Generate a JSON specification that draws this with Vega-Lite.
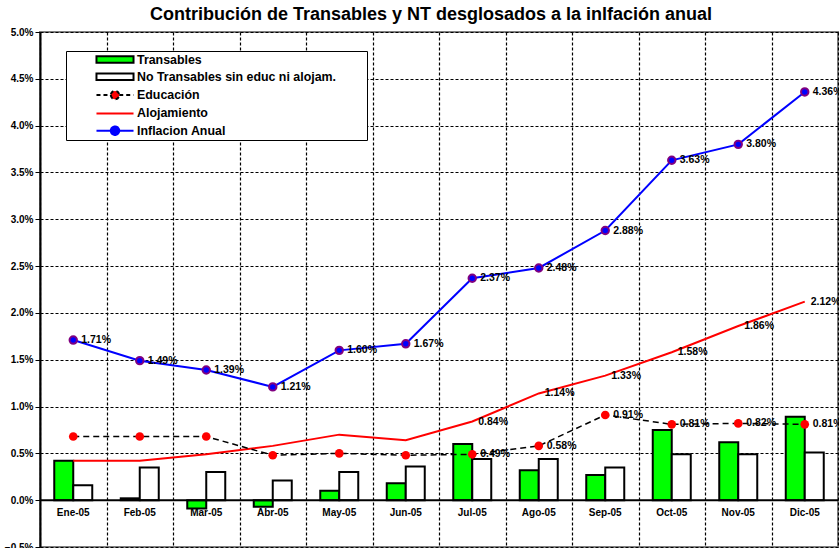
{
  "$schema": "https://vega.github.io/schema/vega-lite/v6.json",
  "width": 798,
  "height": 515,
  "autosize": "none",
  "padding": {"left": 40, "top": 32, "right": 1, "bottom": 1},
  "background": "white",
  "title": {
    "text": "Contribución de Transables y NT desglosados a la inlfación anual",
    "font": "Liberation Sans",
    "fontSize": 18,
    "fontWeight": "bold",
    "color": "black",
    "anchor": "middle",
    "offset": 3,
    "dx": -8
  },
  "datasets": {
    "bars": [
      {"month": "Ene-05", "series": "Transables", "value": 0.0042},
      {"month": "Feb-05", "series": "Transables", "value": 0.0002},
      {"month": "Mar-05", "series": "Transables", "value": -0.0009},
      {"month": "Abr-05", "series": "Transables", "value": -0.0007},
      {"month": "May-05", "series": "Transables", "value": 0.0010},
      {"month": "Jun-05", "series": "Transables", "value": 0.0018},
      {"month": "Jul-05", "series": "Transables", "value": 0.0060},
      {"month": "Ago-05", "series": "Transables", "value": 0.0032},
      {"month": "Sep-05", "series": "Transables", "value": 0.0027},
      {"month": "Oct-05", "series": "Transables", "value": 0.0075},
      {"month": "Nov-05", "series": "Transables", "value": 0.0062},
      {"month": "Dic-05", "series": "Transables", "value": 0.0089},
      {"month": "Ene-05", "series": "No Transables sin educ ni alojam.", "value": 0.0016},
      {"month": "Feb-05", "series": "No Transables sin educ ni alojam.", "value": 0.0035},
      {"month": "Mar-05", "series": "No Transables sin educ ni alojam.", "value": 0.0030},
      {"month": "Abr-05", "series": "No Transables sin educ ni alojam.", "value": 0.0021},
      {"month": "May-05", "series": "No Transables sin educ ni alojam.", "value": 0.0030},
      {"month": "Jun-05", "series": "No Transables sin educ ni alojam.", "value": 0.0036},
      {"month": "Jul-05", "series": "No Transables sin educ ni alojam.", "value": 0.0044},
      {"month": "Ago-05", "series": "No Transables sin educ ni alojam.", "value": 0.0044},
      {"month": "Sep-05", "series": "No Transables sin educ ni alojam.", "value": 0.0035},
      {"month": "Oct-05", "series": "No Transables sin educ ni alojam.", "value": 0.0049},
      {"month": "Nov-05", "series": "No Transables sin educ ni alojam.", "value": 0.0049},
      {"month": "Dic-05", "series": "No Transables sin educ ni alojam.", "value": 0.0051}
    ],
    "lines": [
      {"month": "Ene-05", "edu": 0.0068, "aloj": 0.0042, "infl": 0.0171},
      {"month": "Feb-05", "edu": 0.0068, "aloj": 0.0042, "infl": 0.0149},
      {"month": "Mar-05", "edu": 0.0068, "aloj": 0.0049, "infl": 0.0139},
      {"month": "Abr-05", "edu": 0.0048, "aloj": 0.0058, "infl": 0.0121},
      {"month": "May-05", "edu": 0.0050, "aloj": 0.0070, "infl": 0.0160},
      {"month": "Jun-05", "edu": 0.0048, "aloj": 0.0064, "infl": 0.0167},
      {"month": "Jul-05", "edu": 0.0049, "aloj": 0.0084, "infl": 0.0237},
      {"month": "Ago-05", "edu": 0.0058, "aloj": 0.0114, "infl": 0.0248},
      {"month": "Sep-05", "edu": 0.0091, "aloj": 0.0133, "infl": 0.0288},
      {"month": "Oct-05", "edu": 0.0081, "aloj": 0.0158, "infl": 0.0363},
      {"month": "Nov-05", "edu": 0.0082, "aloj": 0.0186, "infl": 0.0380},
      {"month": "Dic-05", "edu": 0.0081, "aloj": 0.0212, "infl": 0.0436}
    ]
  },
  "config": {
    "font": "Liberation Sans",
    "view": {"stroke": "#808080", "strokeWidth": 2},
    "legend": {"symbolOpacity": 1, "symbolStrokeWidth": 2}
  },
  "layer": [
    {
      "data": {"name": "bars"},
      "mark": {"type": "bar", "strokeWidth": 2},
      "encoding": {
        "x": {"field": "month", "type": "nominal",
          "scale": {"domain": ["Ene-05","Feb-05","Mar-05","Abr-05","May-05","Jun-05","Jul-05","Ago-05","Sep-05","Oct-05","Nov-05","Dic-05"], "paddingInner": 0, "paddingOuter": 0},
          "axis": {"title": null, "labels": false, "ticks": false, "domain": false, "grid": true, "tickBand": "extent", "gridColor": "black", "gridDash": [3, 2], "gridWidth": 1.2, "gridOpacity": 1}},
        "xOffset": {"field": "series", "type": "nominal",
          "scale": {"domain": ["Transables", "No Transables sin educ ni alojam."], "paddingInner": 0, "paddingOuter": 0.75}},
        "y": {"field": "value", "type": "quantitative",
          "scale": {"domain": [-0.005, 0.05], "nice": false, "zero": false},
          "axis": {"title": null, "format": ".1%", "values": [-0.005, 0, 0.005, 0.01, 0.015, 0.02, 0.025, 0.03, 0.035, 0.04, 0.045, 0.05],
            "grid": true, "gridColor": "black", "gridDash": [3, 2], "gridWidth": 1.2, "gridOpacity": 1,
            "domainColor": "black", "domainWidth": 2, "tickColor": "black", "tickSize": 5,
            "labelFont": "Liberation Sans", "labelFontWeight": "bold", "labelFontSize": 10, "labelColor": "black", "labelPadding": 2}},
        "fill": {"field": "series", "type": "nominal",
          "scale": {"domain": ["Transables", "No Transables sin educ ni alojam.", "Educación", "Alojamiento", "Inflacion Anual"],
                    "range": ["#00ff00", "#ffffff", "#ff0000", "transparent", "#0000ff"]},
          "legend": {"title": " ", "titleOrient": "right", "titleColor": "transparent", "titleFontSize": 2, "titlePadding": 30,
            "orient": "none", "legendX": 26, "legendY": 19, "padding": 1, "symbolSize": 169, "symbolStrokeWidth": 2, "symbolOpacity": 1,
            "symbolOffset": 40.5, "labelOffset": 14.5, "rowPadding": 2.3, "fillColor": "white", "strokeColor": "black",
            "labelFont": "Liberation Sans", "labelFontWeight": "bold", "labelFontSize": 12.4, "labelColor": "black", "labelLimit": 400}},
        "stroke": {"field": "series", "type": "nominal",
          "scale": {"domain": ["Transables", "No Transables sin educ ni alojam.", "Educación", "Alojamiento", "Inflacion Anual"],
                    "range": ["black", "black", "black", "#ff0000", "#0000ff"]},
          "legend": {"title": " ", "titleOrient": "right", "titleColor": "transparent", "titleFontSize": 2, "titlePadding": 30,
            "orient": "none", "legendX": 26, "legendY": 19, "padding": 1, "symbolSize": 169, "symbolStrokeWidth": 2, "symbolOpacity": 1,
            "symbolOffset": 40.5, "labelOffset": 14.5, "rowPadding": 2.3, "fillColor": "white", "strokeColor": "black",
            "labelFont": "Liberation Sans", "labelFontWeight": "bold", "labelFontSize": 12.4, "labelColor": "black", "labelLimit": 400}}
      }
    },
    {
      "data": {"name": "bars"},
      "mark": {"type": "point", "opacity": 0},
      "encoding": {
        "x": {"field": "month", "type": "nominal"},
        "y": {"field": "value", "type": "quantitative", "title": null},
        "shape": {"field": "series", "type": "nominal",
          "scale": {"domain": ["Transables", "No Transables sin educ ni alojam.", "Educación", "Alojamiento", "Inflacion Anual"],
                    "range": ["M-2.85,-0.5H2.85V0.5H-2.85Z", "M-2.85,-0.5H2.85V0.5H-2.85Z", "M-2.85,0H-0.65M0.65,0H2.85M-0.65,0A0.65,0.65 0 1,0 0.65,0A0.65,0.65 0 1,0 -0.65,0Z", "M-2.85,0H2.85", "M-2.85,0H-0.65M0.65,0H2.85M-0.65,0A0.65,0.65 0 1,0 0.65,0A0.65,0.65 0 1,0 -0.65,0Z"]},
          "legend": {"title": " ", "titleOrient": "right", "titleColor": "transparent", "titleFontSize": 2, "titlePadding": 30,
            "orient": "none", "legendX": 26, "legendY": 19, "padding": 1, "symbolSize": 169, "symbolStrokeWidth": 2, "symbolOpacity": 1,
            "symbolOffset": 40.5, "labelOffset": 14.5, "rowPadding": 2.3, "fillColor": "white", "strokeColor": "black",
            "labelFont": "Liberation Sans", "labelFontWeight": "bold", "labelFontSize": 12.4, "labelColor": "black", "labelLimit": 400}},
        "strokeDash": {"field": "series", "type": "nominal",
          "scale": {"domain": ["Transables", "No Transables sin educ ni alojam.", "Educación", "Alojamiento", "Inflacion Anual"],
                    "range": [[1, 0], [1, 0], [4, 3], [1, 0], [1, 0]]},
          "legend": {"title": " ", "titleOrient": "right", "titleColor": "transparent", "titleFontSize": 2, "titlePadding": 30,
            "orient": "none", "legendX": 26, "legendY": 19, "padding": 1, "symbolSize": 169, "symbolStrokeWidth": 2, "symbolOpacity": 1,
            "symbolOffset": 40.5, "labelOffset": 14.5, "rowPadding": 2.3, "fillColor": "white", "strokeColor": "black",
            "labelFont": "Liberation Sans", "labelFontWeight": "bold", "labelFontSize": 12.4, "labelColor": "black", "labelLimit": 400}}
      }
    },
    {
      "data": {"values": [{}]},
      "mark": {"type": "rule", "color": "black", "strokeWidth": 2},
      "encoding": {
        "y": {"datum": 0, "type": "quantitative", "title": null}
      }
    },
    {
      "data": {"name": "lines"},
      "mark": {"type": "line", "color": "#ff0000", "strokeWidth": 2},
      "encoding": {
        "x": {"field": "month", "type": "nominal"},
        "y": {"field": "aloj", "type": "quantitative", "title": null}
      }
    },
    {
      "data": {"name": "lines"},
      "mark": {"type": "line", "color": "black", "strokeWidth": 1.5, "strokeDash": [6, 4]},
      "encoding": {
        "x": {"field": "month", "type": "nominal"},
        "y": {"field": "edu", "type": "quantitative", "title": null}
      }
    },
    {
      "data": {"name": "lines"},
      "mark": {"type": "circle", "color": "#ff0000", "size": 75, "opacity": 1},
      "encoding": {
        "x": {"field": "month", "type": "nominal"},
        "y": {"field": "edu", "type": "quantitative", "title": null}
      }
    },
    {
      "data": {"name": "lines"},
      "mark": {"type": "line", "color": "#0000ff", "strokeWidth": 2},
      "encoding": {
        "x": {"field": "month", "type": "nominal"},
        "y": {"field": "infl", "type": "quantitative", "title": null}
      }
    },
    {
      "data": {"name": "lines"},
      "mark": {"type": "point", "shape": "circle", "filled": true, "fill": "#0000ff", "stroke": "#800080", "strokeWidth": 2, "size": 55, "opacity": 1},
      "encoding": {
        "x": {"field": "month", "type": "nominal"},
        "y": {"field": "infl", "type": "quantitative", "title": null}
      }
    },
    {
      "data": {"name": "lines"},
      "mark": {"type": "text", "align": "left", "baseline": "middle", "dx": 8, "font": "Liberation Sans", "fontWeight": "bold", "fontSize": 10.5, "color": "black"},
      "encoding": {
        "x": {"field": "month", "type": "nominal"},
        "y": {"field": "infl", "type": "quantitative", "title": null},
        "text": {"field": "infl", "type": "quantitative", "format": ".2%"}
      }
    },
    {
      "data": {"name": "lines"},
      "transform": [{"filter": {"field": "month", "oneOf": ["Jul-05","Ago-05","Sep-05","Oct-05","Nov-05","Dic-05"]}}],
      "mark": {"type": "text", "align": "left", "baseline": "middle", "dx": 8, "font": "Liberation Sans", "fontWeight": "bold", "fontSize": 10.5, "color": "black"},
      "encoding": {
        "x": {"field": "month", "type": "nominal"},
        "y": {"field": "edu", "type": "quantitative", "title": null},
        "text": {"field": "edu", "type": "quantitative", "format": ".2%"}
      }
    },
    {
      "data": {"name": "lines"},
      "transform": [{"filter": {"field": "month", "oneOf": ["Jul-05","Ago-05","Sep-05","Oct-05","Nov-05","Dic-05"]}}],
      "mark": {"type": "text", "align": "left", "baseline": "middle", "dx": 6, "font": "Liberation Sans", "fontWeight": "bold", "fontSize": 10.5, "color": "black"},
      "encoding": {
        "x": {"field": "month", "type": "nominal"},
        "y": {"field": "aloj", "type": "quantitative", "title": null},
        "text": {"field": "aloj", "type": "quantitative", "format": ".2%"}
      }
    },
    {
      "data": {"name": "lines"},
      "mark": {"type": "text", "align": "center", "baseline": "middle", "font": "Liberation Sans", "fontWeight": "bold", "fontSize": 10, "color": "black"},
      "encoding": {
        "x": {"field": "month", "type": "nominal"},
        "y": {"datum": -0.0014, "type": "quantitative", "title": null},
        "text": {"field": "month", "type": "nominal"}
      }
    }
  ]
}
